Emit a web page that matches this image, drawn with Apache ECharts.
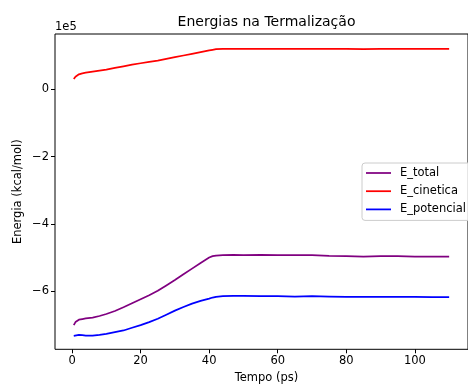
<!DOCTYPE html>
<html>
<head>
<meta charset="utf-8">
<script src="https://cdn.jsdelivr.net/npm/echarts@6/dist/echarts.min.js"></script>
<style>
html,body{margin:0;padding:0;background:#fff;}
#chart{width:468px;height:385px;}
</style>
</head>
<body>
<div id="chart"></div>
<script>
// Time (ps)
const tempo = [0.5, 1, 2, 3, 4, 6, 8, 10, 12.5, 15, 17.5, 20, 22.5, 25, 27.5, 30, 32.5, 35, 37.5, 40, 41, 42, 44, 47, 50, 55, 60, 65, 70, 75, 80, 85, 90, 95, 100, 105, 110];
// Energies in units of 1e5 kcal/mol
const eTotal = [-7.01, -6.92, -6.85, -6.83, -6.81, -6.79, -6.74, -6.68, -6.59, -6.48, -6.36, -6.24, -6.12, -5.99, -5.83, -5.67, -5.50, -5.33, -5.16, -5.00, -4.96, -4.94, -4.93, -4.92, -4.93, -4.92, -4.93, -4.93, -4.93, -4.95, -4.96, -4.97, -4.96, -4.96, -4.97, -4.97, -4.97];
const eCinetica = [0.31, 0.38, 0.45, 0.48, 0.50, 0.53, 0.56, 0.59, 0.64, 0.69, 0.74, 0.78, 0.82, 0.86, 0.91, 0.96, 1.01, 1.06, 1.11, 1.16, 1.18, 1.20, 1.21, 1.21, 1.21, 1.21, 1.21, 1.21, 1.21, 1.21, 1.21, 1.20, 1.21, 1.21, 1.21, 1.21, 1.21];
const ePotencial = [-7.33, -7.31, -7.30, -7.31, -7.32, -7.32, -7.30, -7.27, -7.22, -7.17, -7.09, -7.01, -6.92, -6.82, -6.70, -6.58, -6.47, -6.37, -6.29, -6.22, -6.19, -6.17, -6.15, -6.14, -6.14, -6.15, -6.15, -6.16, -6.15, -6.16, -6.17, -6.17, -6.17, -6.17, -6.17, -6.18, -6.18];
const xTicks = [0, 20, 40, 60, 80, 100];
const yTicks = [-6, -4, -2, 0];
const seriesNames = ['E_total', 'E_cinetica', 'E_potencial'];

const pair = (ys) => tempo.map((t, i) => [t, ys[i]]);
const FONT = 'DejaVu Sans';
const FS = 11.5;
const chart = echarts.init(document.getElementById('chart'), null, {renderer: 'canvas'});

const gridLeft = 55, gridTop = 34, gridW = 423, gridH = 315.3;

chart.setOption({
  animation: false,
  backgroundColor: '#fff',
  grid: {left: gridLeft, top: gridTop, width: gridW, height: gridH, show: true, borderColor: '#000', borderWidth: 1, backgroundColor: 'transparent'},
  xAxis: {
    type: 'value', min: -4.975, max: 115.5,
    axisLine: {show: false, onZero: false},
    splitLine: {show: false},
    axisTick: {show: true, length: 4, lineStyle: {color: '#000', width: 1}, customValues: xTicks},
    axisLabel: {show: true, color: '#000', fontFamily: FONT, fontSize: FS, margin: 6, customValues: xTicks, formatter: v => String(v)}
  },
  yAxis: {
    type: 'value', min: -7.73, max: 1.65,
    axisLine: {show: false, onZero: false},
    splitLine: {show: false},
    axisTick: {show: true, length: 4, lineStyle: {color: '#000', width: 1}, customValues: yTicks},
    axisLabel: {show: true, color: '#000', fontFamily: FONT, fontSize: FS, margin: 6, customValues: yTicks,
      formatter: v => v === 0 ? '0' : (v < 0 ? '\u2212' + Math.abs(v) : String(v))}
  },
  legend: {
    orient: 'vertical', left: 362, top: 163,
    padding: [4, 8, 5, 4],
    itemWidth: 25, itemHeight: 12, itemGap: 6.2,
    backgroundColor: 'rgba(255,255,255,0.8)',
    borderColor: '#cccccc', borderWidth: 1, borderRadius: 3,
    textStyle: {fontFamily: FONT, fontSize: FS, color: '#000', padding: [0, 0, 0, 4]},
    data: seriesNames.map(n => ({name: n, icon: 'path://M0,0 L25,0 L25,1.75 L0,1.75 Z'}))
  },
  graphic: [
    {type: 'text', x: 55, y: 27, style: {text: '1e5', fontFamily: FONT, fontSize: FS, fill: '#000', textVerticalAlign: 'middle'}},
    {type: 'text', x: gridLeft + gridW / 2, y: 22, style: {text: 'Energias na Termalização', fontFamily: FONT, fontSize: 14, fill: '#000', textAlign: 'center', textVerticalAlign: 'middle'}},
    {type: 'text', x: gridLeft + gridW / 2, y: 378, style: {text: 'Tempo (ps)', fontFamily: FONT, fontSize: FS, fill: '#000', textAlign: 'center', textVerticalAlign: 'middle'}},
    {type: 'text', x: 18, y: gridTop + gridH / 2, rotation: Math.PI / 2, style: {text: 'Energia (kcal/mol)', fontFamily: FONT, fontSize: FS, fill: '#000', textAlign: 'center', textVerticalAlign: 'middle'}}
  ],
  series: [
    {name: 'E_total', type: 'line', data: pair(eTotal), symbol: 'none', lineStyle: {color: '#800080', width: 1.75}, itemStyle: {color: '#800080'}, z: 3},
    {name: 'E_cinetica', type: 'line', data: pair(eCinetica), symbol: 'none', lineStyle: {color: '#ff0000', width: 1.75}, itemStyle: {color: '#ff0000'}, z: 3},
    {name: 'E_potencial', type: 'line', data: pair(ePotencial), symbol: 'none', lineStyle: {color: '#0000ff', width: 1.75}, itemStyle: {color: '#0000ff'}, z: 3}
  ]
});
</script>
</body>
</html>
